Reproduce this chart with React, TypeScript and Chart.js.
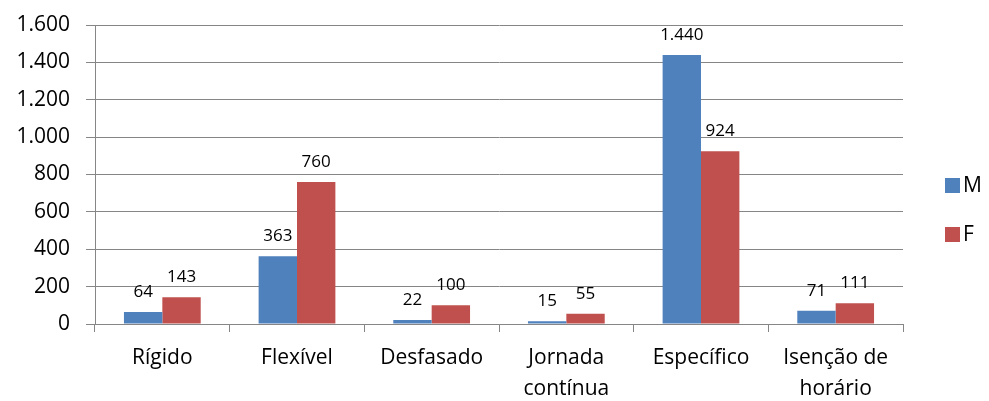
import React, { useEffect, useRef } from "react";
import { Chart, registerables } from "chart.js";

Chart.register(...registerables);

const categories: (string | string[])[] = [
  "Rígido",
  "Flexível",
  "Desfasado",
  ["Jornada", "contínua"],
  "Específico",
  ["Isenção de", "horário"],
];
const seriesM = [64, 363, 22, 15, 1440, 71];
const seriesF = [143, 760, 100, 55, 924, 111];
const seriesNames = ["M", "F"];
const colors = ["#4F81BD", "#C0504D"];
const yMax = 1600;
const yStep = 200;

const FONT = "'Open Sans', Lato, sans-serif";
const GRID = "#868686";

const fmt = (v: number) => String(Math.round(v)).replace(/\B(?=(\d{3})+(?!\d))/g, ".");

const dataLabelPlugin = {
  id: "dataLabels",
  afterDatasetsDraw(chart: any) {
    const ctx = chart.ctx;
    ctx.save();
    ctx.font = `17px ${FONT}`;
    ctx.fillStyle = "#000";
    ctx.textAlign = "center";
    ctx.textBaseline = "middle";
    chart.data.datasets.forEach((ds: any, di: number) => {
      const meta = chart.getDatasetMeta(di);
      meta.data.forEach((el: any, i: number) => {
        ctx.fillText(fmt(ds.data[i]), el.x, el.y - 20);
      });
    });
    ctx.restore();
  },
};

const legendPlugin = {
  id: "customLegend",
  afterDraw(chart: any) {
    const ctx = chart.ctx;
    const x0 = chart.chartArea.right + 42;
    const ys = [185, 234];
    ctx.save();
    ctx.font = `21px ${FONT}`;
    ctx.textBaseline = "middle";
    ctx.textAlign = "left";
    seriesNames.forEach((n, i) => {
      ctx.fillStyle = colors[i];
      ctx.fillRect(x0, ys[i] - 7, 15, 15);
      ctx.fillStyle = "#000";
      ctx.fillText(n, x0 + 18, ys[i] + 1);
    });
    ctx.restore();
  },
};

export default function App() {
  const ref = useRef<HTMLCanvasElement | null>(null);
  useEffect(() => {
    document.body.style.margin = "0";
    if (!ref.current) return;
    const chart = new Chart(ref.current, {
      type: "bar",
      data: {
        labels: categories,
        datasets: [
          { label: seriesNames[0], data: seriesM, backgroundColor: colors[0] },
          { label: seriesNames[1], data: seriesF, backgroundColor: colors[1] },
        ],
      },
      options: {
        animation: false,
        responsive: false,
        maintainAspectRatio: false,
        layout: { padding: { top: 25, right: 86, left: 0, bottom: 0 } },
        datasets: { bar: { categoryPercentage: 0.57, barPercentage: 1 } },
        plugins: { legend: { display: false }, tooltip: { enabled: false } },
        scales: {
          x: {
            grid: {
              offset: true,
              drawOnChartArea: false,
              drawTicks: true,
              tickLength: 8,
              color: GRID,
            },
            border: { color: GRID, width: 1 },
            ticks: {
              color: "#000",
              font: { family: FONT, size: 21, lineHeight: 1.48 },
              padding: 10,
              maxRotation: 0,
              autoSkip: false,
            },
            afterFit(scale: any) {
              scale.height = 77;
              scale.paddingLeft = 0;
              scale.paddingRight = 0;
            },
          },
          y: {
            min: 0,
            max: yMax,
            grid: { color: GRID, tickLength: 9, drawTicks: true },
            border: { color: GRID, width: 1 },
            ticks: {
              stepSize: yStep,
              color: "#000",
              font: { family: FONT, size: 21 },
              padding: 16,
              callback: (v: any) => fmt(Number(v)),
            },
            afterFit(scale: any) {
              scale.width = 95;
              scale.paddingTop = 0;
              scale.paddingBottom = 0;
            },
          },
        },
      },
      plugins: [dataLabelPlugin, legendPlugin],
    } as any);
    return () => chart.destroy();
  }, []);
  return (
    <div style={{ width: 989, height: 401 }}>
      <canvas ref={ref} width={989} height={401} style={{ display: "block" }} />
    </div>
  );
}
